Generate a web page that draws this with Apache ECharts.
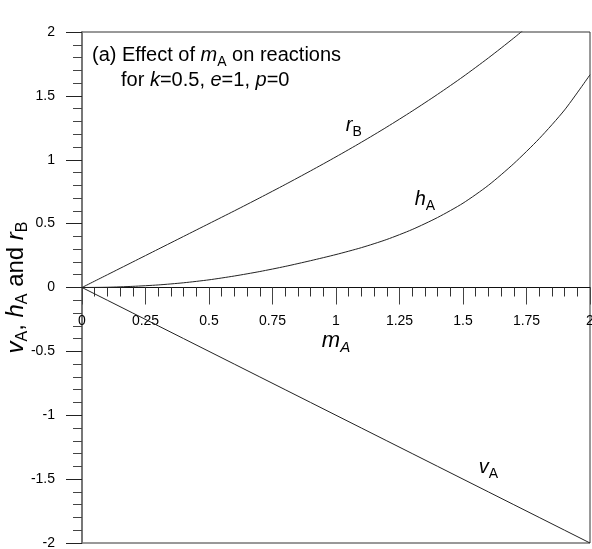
<!DOCTYPE html>
<html>
<head>
<meta charset="utf-8">
<script src="https://cdn.jsdelivr.net/npm/echarts@6/dist/echarts.min.js"></script>
<style>
  html, body { margin: 0; padding: 0; background: #fff; }
  #chart { width: 592px; height: 549px; }
</style>
</head>
<body>
<div id="chart"></div>
<script>
// Mass ratio m_A (x values)
const massA = [0, 0.1, 0.2, 0.3, 0.4, 0.5, 0.6, 0.7, 0.8, 0.9, 1.0,
               1.1, 1.2, 1.3, 1.4, 1.5, 1.6, 1.7, 1.8, 1.9, 2.0];
// Velocity v_A
const vA = [0, -0.1, -0.2, -0.3, -0.4, -0.5, -0.6, -0.7, -0.8, -0.9, -1.0,
            -1.1, -1.2, -1.3, -1.4, -1.5, -1.6, -1.7, -1.8, -1.9, -2.0];
// Reaction h_A
const hA = [0, 0.002, 0.009, 0.02, 0.037, 0.06, 0.09, 0.125, 0.165, 0.21, 0.258,
            0.312, 0.376, 0.454, 0.548, 0.66, 0.80, 0.97, 1.165, 1.39, 1.665];
// Reaction r_B (leaves the plot above 2)
const rB = [0, 0.1, 0.2, 0.3, 0.4, 0.5, 0.6, 0.702, 0.806, 0.913, 1.023,
            1.137, 1.256, 1.381, 1.512, 1.65, 1.797, 1.953, 2.118];

// Axis ranges and steps
const xRange = [0, 2], xStep = 0.25;
const yRange = [-2, 2], yStep = 0.5;

// Curve label anchors [m_A, value]
const labelRB = [1.07, 1.27];
const labelHA = [1.35, 0.69];
const labelVA = [1.60, -1.41];

const FONT = '"Liberation Sans", Arial, sans-serif';

// Rich-text styles: the subscript token carries top padding inside a tall line,
// which pushes it below the main glyphs by half the padding.
function makeRich(main, sub, italicSub) {
  const pad = 14;
  return {
    n: { fontFamily: FONT, fontSize: main, lineHeight: main, color: '#000' },
    i: { fontFamily: FONT, fontSize: main, lineHeight: main, fontStyle: 'italic', color: '#000' },
    s: { fontFamily: FONT, fontSize: sub, lineHeight: 30, padding: [pad, 0, 0, 0],
         fontStyle: italicSub ? 'italic' : 'normal', color: '#000' }
  };
}
const rich = makeRich(20, 14, false);

const zip = (xs, ys) => ys.map((y, k) => [xs[k], y]);

function curveLabel(coord, text) {
  return {
    symbol: 'circle',
    symbolSize: 1,
    itemStyle: { color: 'rgba(0,0,0,0)' },
    label: { show: true, position: 'inside', formatter: text, rich: rich },
    data: [{ coord: coord }]
  };
}

const lineStyle = { color: '#222', width: 1 };

const chart = echarts.init(document.getElementById('chart'), null, { renderer: 'canvas' });
chart.setOption({
  animation: false,
  backgroundColor: '#fff',
  textStyle: { fontFamily: FONT },
  grid: {
    left: 82, right: 2, top: 32, bottom: 6,
    outerBoundsMode: 'none', containLabel: false,
    show: true, borderColor: '#333', borderWidth: 1, backgroundColor: 'transparent'
  },
  xAxis: {
    type: 'value',
    min: xRange[0], max: xRange[1], interval: xStep,
    position: 'bottom',
    offset: -255.5,
    axisLine: { onZero: false, lineStyle: { color: '#111', width: 1 } },
    axisTick: { show: true, inside: false, length: 17, lineStyle: { color: '#444' } },
    minorTick: { show: true, splitNumber: 5, length: 9, lineStyle: { color: '#333' } },
    splitLine: { show: false },
    axisLabel: { margin: 27, fontSize: 14, color: '#000', fontFamily: FONT, hideOverlap: false },
    name: '{i|m}{s|A}',
    nameLocation: 'middle',
    nameGap: 38,
    nameMoveOverlap: false,
    nameTextStyle: { rich: makeRich(22, 15, true) }
  },
  yAxis: {
    type: 'value',
    min: yRange[0], max: yRange[1], interval: yStep,
    axisLine: { show: true, onZero: false, lineStyle: { color: '#777', width: 2 } },
    axisTick: { show: true, inside: false, length: 16, lineStyle: { color: '#222' } },
    minorTick: { show: true, splitNumber: 5, length: 9, lineStyle: { color: '#444' } },
    splitLine: { show: false },
    axisLabel: { margin: 27, fontSize: 14, color: '#000', fontFamily: FONT },
    name: '{i|v}{s|A}{n|, }{i|h}{s|A}{n| and }{i|r}{s|B}',
    nameLocation: 'middle',
    nameGap: 51,
    nameMoveOverlap: false,
    nameTextStyle: { rich: makeRich(24, 16, false) }
  },
  graphic: [
    {
      type: 'text', left: 92, top: 41, silent: true,
      style: { text: '{n|(a) Effect of }{i|m}{s|A}{n| on reactions}', rich: rich, font: '20px ' + FONT }
    },
    {
      type: 'text', left: 121, top: 70, silent: true,
      style: { text: '{n|for }{i|k}{n|=0.5, }{i|e}{n|=1, }{i|p}{n|=0}', rich: rich, font: '20px ' + FONT }
    }
  ],
  series: [
    {
      name: 'rB', type: 'line', data: zip(massA, rB), showSymbol: false,
      smooth: 0.25, clip: true, lineStyle: lineStyle,
      markPoint: curveLabel(labelRB, '{i|r}{s|B}')
    },
    {
      name: 'hA', type: 'line', data: zip(massA, hA), showSymbol: false,
      smooth: 0.25, clip: true, lineStyle: lineStyle,
      markPoint: curveLabel(labelHA, '{i|h}{s|A}')
    },
    {
      name: 'vA', type: 'line', data: zip(massA, vA), showSymbol: false,
      clip: true, lineStyle: lineStyle,
      markPoint: curveLabel(labelVA, '{i|v}{s|A}')
    }
  ]
});
</script>
</body>
</html>
